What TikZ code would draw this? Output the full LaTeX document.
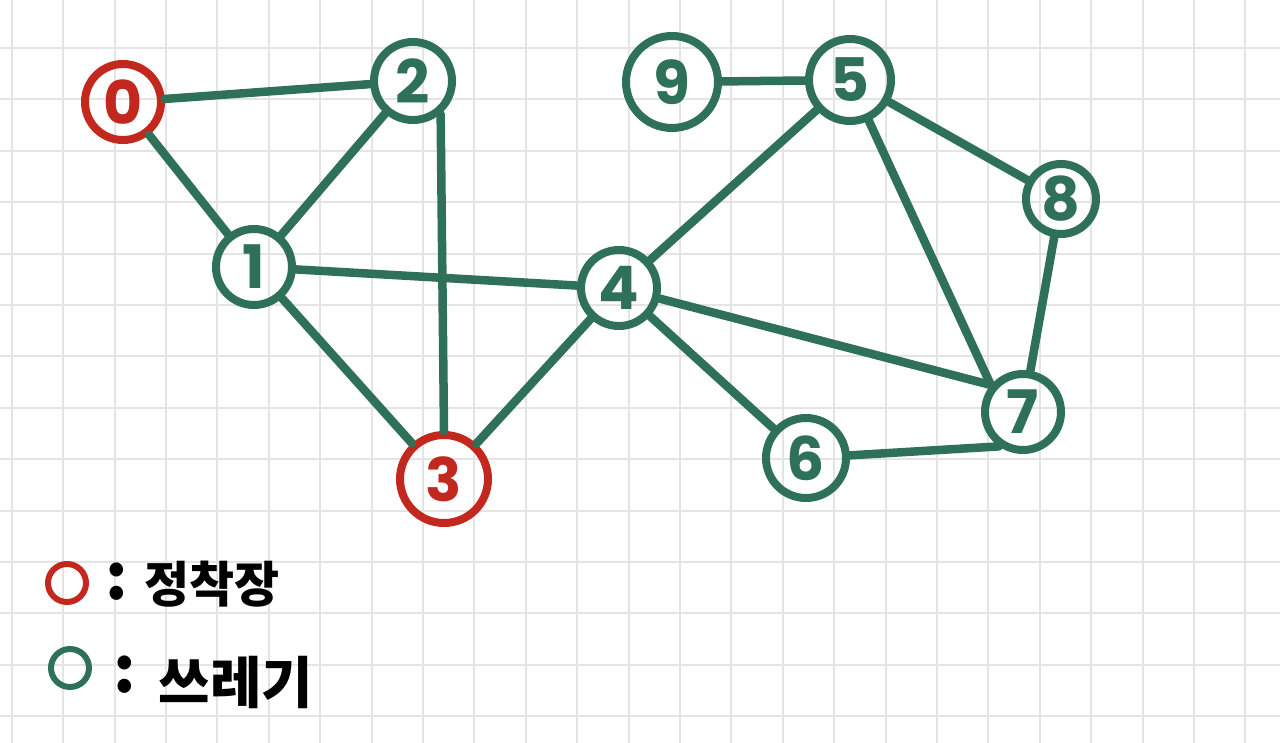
\documentclass[tikz,border=0pt]{standalone}
\usepackage{fontspec}
\setmainfont{Poppins}
\newfontfamily\kr{Noto Sans CJK KR}
\definecolor{gr}{HTML}{2E7058}
\definecolor{rd}{HTML}{C2281E}
\definecolor{gridc}{HTML}{E4E4E4}
\tikzset{
  dig/.style={font=\fontsize{60}{60}\selectfont\bfseries},
  gnode/.style={circle, draw=gr, line width=8pt, inner sep=0pt, minimum size=76pt},
  rnode/.style={gnode, draw=rd},
  gl/.style={label={[dig,text=gr]center:#1}},
  rl/.style={label={[dig,text=rd]center:#1}},
  edge/.style={draw=gr, line width=8.5pt, line cap=round},
  legc/.style={circle, line width=6pt, inner sep=0pt, minimum size=38pt},
  legt/.style={inner sep=0pt, font=\kr\bfseries, text=black}
}
\begin{document}
\begin{tikzpicture}[x=1pt,y=-1pt]
\useasboundingbox (0,0) rectangle (1280,743);
\fill[white] (0,0) rectangle (1280,743);
\foreach \i in {0,...,24} \draw[gridc, line width=2pt] ({11.7+51.4*\i},0) -- ({11.7+51.4*\i},743);
\foreach \j in {0,...,13} \draw[gridc, line width=2pt] (0,{48+51.4*\j}) -- (1280,{48+51.4*\j});

\node[rnode, rl=0] (n0) at (123,102) {};
\node[gnode, minimum size=78pt, gl=2] (n2) at (413,81) {};
\node[gnode, minimum size=92pt, gl=9] (n9) at (672,82) {};
\node[gnode, minimum size=82pt, gl=5] (n5) at (850,80) {};
\node[gnode, minimum size=70pt, gl=8] (n8) at (1061,199) {};
\node[gnode, gl=1] (n1) at (254,267) {};
\node[gnode, gl=4] (n4) at (619,288) {};
\node[gnode, gl=7] (n7) at (1023,412) {};
\node[gnode, minimum size=80pt, gl=6] (n6) at (806,458) {};
\node[rnode, minimum size=88pt, rl=3] (n3) at (444,479) {};

\draw[edge] (n0) -- (n2);
\draw[edge] (n0) -- (n1);
\draw[edge] (n1) -- (n2);
\draw[edge] (n2.-50) -- (n3.north);
\draw[edge] (n1) -- (n3);
\draw[edge] (n1) -- (n4);
\draw[edge] (n3) -- (n4);
\draw[edge] (n4) -- (n5);
\draw[edge] (n4) -- (n7.140);
\draw[edge] (n4) -- (n6);
\draw[edge] (n9) -- (n5);
\draw[edge] (n5) -- (n8);
\draw[edge] (n5) -- (n7.140);
\draw[edge] (n8) -- (n7);
\draw[edge] (n6) -- (n7.-125);

\node[legc, draw=rd] (l1) at (67,583) {};
\node[legc, draw=gr] (l2) at (70,668) {};
\node[legt, font=\kr\bfseries\fontsize{64}{64}\selectfont] (c1) at (117,582) {:};
\node[legt, font=\kr\bfseries\fontsize{49}{49}\selectfont] (t1) at (212,584) {정착장};
\node[legt, font=\kr\bfseries\fontsize{64}{64}\selectfont] (c2) at (125,675) {:};
\node[legt, font=\kr\bfseries\fontsize{56}{56}\selectfont] (t2) at (236,682) {쓰레기};
\end{tikzpicture}
\end{document}
